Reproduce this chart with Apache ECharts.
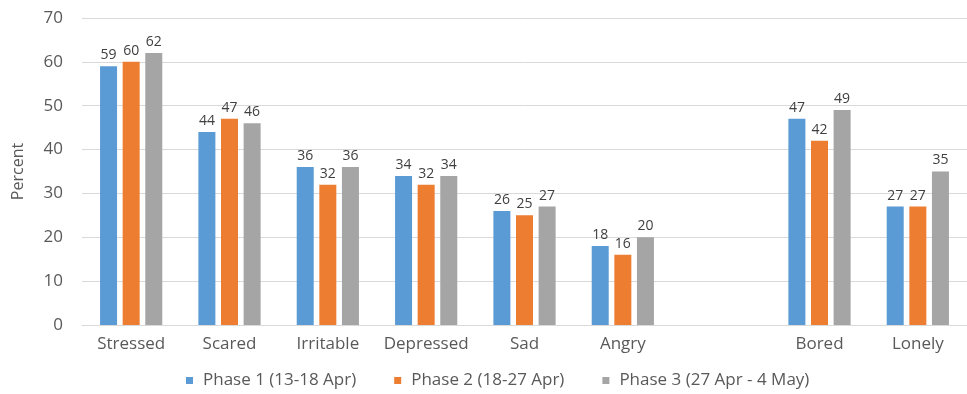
<!DOCTYPE html>
<html>
<head>
<meta charset="utf-8">
<title>Emotions by phase</title>
<script src="https://cdn.jsdelivr.net/npm/echarts@6/dist/echarts.min.js"></script>
<style>
  html, body { margin: 0; padding: 0; background: #ffffff; }
  #chart { width: 967px; height: 394px; }
</style>
</head>
<body>
<div id="chart"></div>
<script>
// Emotion categories; the blank entry leaves a gap before Bored and Lonely
const categories = ['Stressed', 'Scared', 'Irritable', 'Depressed', 'Sad', 'Angry', '', 'Bored', 'Lonely'];

const phase1 = [59, 44, 36, 34, 26, 18, '-', 47, 27];
const phase2 = [60, 47, 32, 32, 25, 16, '-', 42, 27];
const phase3 = [62, 46, 36, 34, 27, 20, '-', 49, 35];

const seriesNames = ['Phase 1 (13-18 Apr)', 'Phase 2 (18-27 Apr)', 'Phase 3 (27 Apr - 4 May)'];
const yTicks = [0, 10, 20, 30, 40, 50, 60, 70];

const FONT = '"Open Sans", sans-serif';
const colors = ['#5B9BD5', '#ED7D31', '#A5A5A5'];

function barSeries(name, data, color) {
  return {
    name: name,
    type: 'bar',
    data: data,
    barWidth: 17,
    barGap: '33%',
    itemStyle: { color: color },
    label: {
      show: true,
      position: 'top',
      distance: 4,
      color: '#404040',
      fontFamily: FONT,
      fontSize: 14
    }
  };
}

const chart = echarts.init(document.getElementById('chart'));
chart.setOption({
  animation: false,
  color: colors,
  grid: { left: 82, top: 18, right: -9, bottom: 69 },
  legend: {
    bottom: 0,
    left: 181,
    itemWidth: 7,
    itemHeight: 7,
    itemGap: 38,
    icon: 'rect',
    textStyle: { color: '#595959', fontFamily: FONT, fontSize: 17, padding: [0, 0, 0, 5] },
    data: seriesNames
  },
  xAxis: {
    type: 'category',
    data: categories,
    axisLine: { lineStyle: { color: '#D9D9D9' } },
    axisTick: { show: false },
    axisLabel: { color: '#595959', fontFamily: FONT, fontSize: 17, margin: 11, interval: 0 }
  },
  yAxis: {
    type: 'value',
    min: yTicks[0],
    max: yTicks[yTicks.length - 1],
    interval: 10,
    name: 'Percent',
    nameLocation: 'middle',
    nameGap: 56,
    nameTextStyle: { color: '#595959', fontFamily: FONT, fontSize: 16 },
    axisLine: { show: false },
    axisTick: { show: false },
    splitLine: { lineStyle: { color: '#D9D9D9' } },
    axisLabel: { color: '#595959', fontFamily: FONT, fontSize: 17, margin: 19 }
  },
  series: [
    barSeries(seriesNames[0], phase1, colors[0]),
    barSeries(seriesNames[1], phase2, colors[1]),
    barSeries(seriesNames[2], phase3, colors[2])
  ]
});
</script>
</body>
</html>
